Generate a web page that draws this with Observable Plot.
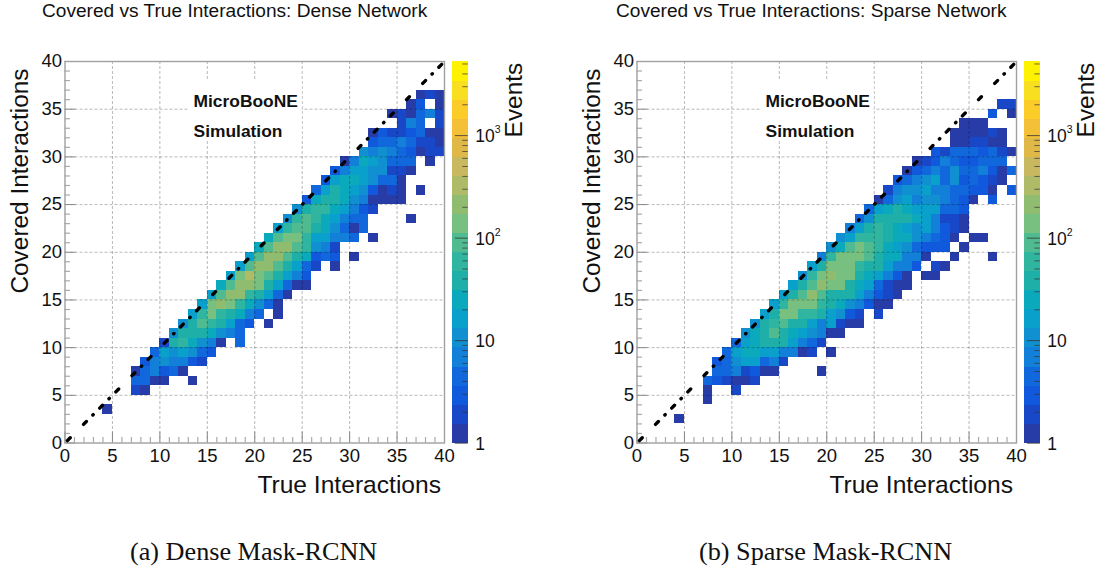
<!DOCTYPE html>
<html><head><meta charset="utf-8">
<script src="https://cdn.jsdelivr.net/npm/d3@7"></script>
<script src="https://cdn.jsdelivr.net/npm/@observablehq/plot@0.6"></script>
<style>
html,body{margin:0;padding:0;background:#fff}
#page{position:relative;width:1106px;height:572px;overflow:hidden;font-family:"Liberation Sans",sans-serif;color:#111}
.t{position:absolute;white-space:nowrap;font-size:19.1px;line-height:22px}
.c{position:absolute;white-space:nowrap;font-family:"Liberation Serif",serif;font-size:26.2px;line-height:28px}
svg{position:absolute;overflow:visible}
</style></head><body><div id="page"></div>
<script>
// Colour bands of the Events palette, bottom to top, and the counts that separate them
const bandColors = ["#283ca8","#1848c8","#1058dc","#1068dc","#1280d8","#1090d0","#0aa0cc","#0aaabc","#1eb0a8","#30b6a0","#50bb90","#78c080","#90bc70","#b0bb68","#c8b860","#e0b848","#f4c038","#fccc28","#f8e020","#fff200"];
const bandEdges = [1,1.53,2.35,3.6,5.5,8.5,13,20,30.6,47,72,110,170,260,398,610,940,1440,2200,3400,5250];
const axisTicks = [0,5,10,15,20,25,30,35,40];
const eventTicks = [1,10,100,1000];
const eventExponents = [{y:100,t:"2"},{y:1000,t:"3"}];
const eventMinor = [2,3,4,5,6,7,8,9,20,30,40,50,60,70,80,90,200,300,400,500,600,700,800,900,2000,3000,4000,5000];
// Diagonal pattern: whether a dot follows each dash
const diagonalDots = [0,1,1,0,1,0,1,1,0,0,1,0,0,1,1,0,1,0,1,1,0,0,1,0];

// Dense network: for each covered row, the first true bin and the events from there on
const denseCovered = [3,5,6,7,8,9,10,11,12,13,14,15,16,17,18,19,20,21,22,23,24,25,26,27,28,29,30,31,32,33,34,35,36];
const denseStart = [4,7,7,7,8,9,10,11,12,13,14,15,16,17,18,19,20,21,22,23,24,25,26,27,28,29,31,32,32,35,34,36,37];
const denseEvents = [
[1],[2,1],[4,4,1,1,0,0,1],[1,4,7,3,4,1],[3,7,10,7,7,3,2],[4,16,10,16,10,4,3],
[2,37,57,25,10,7,1,0,4],[10,37,37,37,25,10,7,4],[10,37,88,57,37,16,4,3,0,1],
[16,57,135,57,37,25,7,4,0,1],[16,135,206,135,57,25,10,4,1],[16,88,206,206,57,37,16,4,1],
[25,88,206,206,135,37,16,4,1,1],[16,135,316,135,88,37,16,7,3],[16,88,206,206,88,37,16,4,2,0,1],
[16,88,206,206,88,37,25,3,4,3,0,1],[25,88,206,206,88,57,10,7,2],[25,88,135,135,57,16,16,7,7,4,0,1],
[16,57,88,88,37,25,10,4,1,4],[10,57,88,57,25,16,7,4,4,0,0,0,0,1],[10,37,57,57,25,16,7,3,2],
[3,25,37,37,25,10,7,1,1,1,1],[4,16,37,25,16,10,3,1,2,1,0,1],[3,16,25,25,16,10,4,4,1],
[3,7,16,16,10,10,2,2,1],[1,7,25,16,10,4,4,4,0,1],[10,7,10,7,4,3,1,2,2],[3,4,4,7,4,2,2,1],
[1,3,2,2,3,4,1,1],[2,7,4,0,2],[1,2,1,4,7,2],[1,3,0,1],[1,2,1]];

// Sparse network
const sparseCovered = [2,4,5,6,7,8,9,10,11,12,13,14,15,16,17,18,19,20,21,22,23,24,25,26,27,28,29,30,31,32,33,34,35];
const sparseStart = [4,7,7,7,8,8,9,10,11,12,13,14,15,16,17,18,19,20,21,22,23,24,25,26,27,28,29,31,33,33,34,37,38];
const sparseEvents = [
[1],[1],[1,0,0,2],[4,3,2,1,1,2],[4,4,7,2,3,1,1,0,0,0,0,1],[3,4,10,16,16,4,7,2],
[4,16,25,25,16,16,7,7,1,2,0,1],[4,16,25,37,37,37,16,7,4,2],[10,25,37,88,37,25,16,10,7,1,1],
[10,37,57,88,37,37,16,7,16,2,1,1],[16,37,135,135,57,57,37,16,10,3,2,0,2],
[16,57,135,135,135,57,37,25,10,7,3,1,1],[16,37,88,206,88,37,37,37,16,7,3,2,1],
[16,37,88,206,135,135,37,25,16,4,2,1,1],[10,57,135,206,135,135,37,25,16,7,3,1,0,1,1],
[16,37,135,135,135,57,37,37,16,7,7,3,0,2,1],[7,57,135,135,135,88,37,25,25,7,7,1,0,0,1,0,0,0,1],
[10,25,88,135,88,57,25,16,10,4,3,3,3,0,1],[10,16,57,57,57,37,25,25,10,7,4,3,1,0,1,1],
[7,16,37,57,37,25,16,10,16,7,3,2,1],[4,10,37,37,37,37,25,16,7,2,2,1],[4,16,25,37,25,16,16,16,4,4,3],
[1,4,10,16,7,10,10,7,4,3,1,0,3],[2,7,10,10,16,7,7,4,4,3,3,1,0,3],[3,4,7,10,16,4,10,3,4,3,2,1],
[1,3,4,7,4,10,4,4,7,3,1,4],[1,2,3,7,4,3,3,4,4,4],[3,2,4,4,4,3,4,2,1],[1,1,2,2,1,1],[1,1,1,1,2,1],
[1,1,1],[3,0,1],[2,2]];

const page = document.getElementById("page");
const colorScale = {type:"threshold", domain:bandEdges.slice(1,-1), range:bandColors};

function cellsOf(covered, start, events){
  const out = [];
  covered.forEach((y,i)=>events[i].forEach((v,j)=>{ if(v>0) out.push({x:start[i]+j,y,v}); }));
  return out;
}
const dashPattern = diagonalDots.flatMap(d => d ? [4,9.2,0.5,9.2] : [4,18.9]).join(" ");

function panel(left, covered, start, events){
  const cells = cellsOf(covered,start,events);
  const minor = d3.range(0,41).filter(d=>d%5);
  const inner = axisTicks.filter(d=>d>0&&d<40);
  const svg = Plot.plot({
    width:450, height:510, marginLeft:64.5, marginRight:6, marginTop:61, marginBottom:67.5,
    style:{left:left+"px",top:"0px",fontFamily:"Liberation Sans, sans-serif",color:"#111",background:"transparent"},
    x:{domain:[0,40],label:null}, y:{domain:[0,40],label:null},
    color:colorScale,
    marks:[
      Plot.rect(cells,{x1:"x",x2:d=>d.x+1,y1:"y",y2:d=>d.y+1,fill:"v",shapeRendering:"crispEdges"}),
      Plot.ruleX(inner,{stroke:"#000",strokeOpacity:0.28,strokeDasharray:"3 2"}),
      Plot.ruleY(inner,{stroke:"#000",strokeOpacity:0.28,strokeDasharray:"3 2"}),
      Plot.rect([{x1:13,x2:25,y1:31.7,y2:38}],{x1:"x1",x2:"x2",y1:"y1",y2:"y2",fill:"#fff"}),
      Plot.text(["MicroBooNE"],{x:13.55,y:35.8,textAnchor:"start",fontWeight:"bold",fontSize:17.4,fill:"#111"}),
      Plot.text(["Simulation"],{x:13.55,y:32.65,textAnchor:"start",fontWeight:"bold",fontSize:17.4,fill:"#111"}),
      Plot.ruleX(minor,{y1:0,y2:0.58,stroke:"#aaa",strokeWidth:1.2}),
      Plot.ruleY(minor,{x1:0,x2:0.58,stroke:"#aaa",strokeWidth:1.2}),
      Plot.ruleX(axisTicks,{y1:0,y2:1.15,stroke:"#888",strokeWidth:1}),
      Plot.ruleY(axisTicks,{x1:0,x2:1.15,stroke:"#888",strokeWidth:1}),
      Plot.frame({stroke:"#a0a0a0",strokeWidth:1.4}),
      Plot.line([[0,0],[40.1,40.1]],{stroke:"#000",strokeWidth:3.4,strokeLinecap:"round",strokeDasharray:dashPattern,strokeDashoffset:-3.4}),
      Plot.axisX(axisTicks,{tickSize:0,tickPadding:6,fontSize:18.5,fill:"#111",label:null}),
      Plot.axisY(axisTicks,{tickSize:0,tickPadding:3,fontSize:18.5,fill:"#111",label:null}),
      Plot.text(["True Interactions"],{frameAnchor:"bottom-right",dy:50,dx:-3.5,textAnchor:"end",fontSize:24.6,fill:"#111"}),
      Plot.text(["Covered Interactions"],{frameAnchor:"top-left",dx:-54,dy:7,rotate:-90,textAnchor:"end",fontSize:24.4,fill:"#111"})
    ]
  });
  page.appendChild(svg);

  const bands = bandColors.map((c,i)=>({lo:bandEdges[i],hi:bandEdges[i+1],c}));
  const bar = Plot.plot({
    width:100, height:510, marginLeft:11.7, marginRight:72.2, marginTop:61.3, marginBottom:67.3,
    style:{left:(left+440)+"px",top:"0px",fontFamily:"Liberation Sans, sans-serif",color:"#111",background:"transparent"},
    x:{domain:[0,1],axis:null},
    y:{type:"log",domain:[1,5250],label:null,axis:null},
    marks:[
      Plot.rect(bands,{x1:0,x2:1,y1:"lo",y2:"hi",fill:"c",shapeRendering:"crispEdges"}),
      Plot.ruleY(eventMinor,{x1:0.66,x2:1,stroke:"#333",strokeOpacity:0.7}),
      Plot.ruleY(eventTicks,{x1:0.2,x2:1,stroke:"#333",strokeOpacity:0.8}),
      Plot.axisY(eventTicks,{anchor:"right",tickSize:0,tickPadding:7,fontSize:17.5,dy:1,fill:"#111",label:null,
        tickFormat:d=>d===1?"1":"10"}),
      Plot.text(eventExponents,{x:()=>1,y:"y",text:"t",dx:26.5,dy:-6,textAnchor:"start",fontSize:10.5,fill:"#111"}),
      Plot.text(["Events"],{frameAnchor:"top-right",dx:36,dy:1,rotate:-90,textAnchor:"end",fontSize:24.4,fill:"#111"})
    ]
  });
  page.appendChild(bar);
}
panel(0,denseCovered,denseStart,denseEvents);
panel(572,sparseCovered,sparseStart,sparseEvents);

function label(cls,text,x,y){const d=document.createElement("div");d.className=cls;d.textContent=text;d.style.left=x+"px";d.style.top=y+"px";page.appendChild(d);}
label("t","Covered vs True Interactions: Dense Network",42,0);
label("t","Covered vs True Interactions: Sparse Network",616,0);
label("c","(a) Dense Mask-RCNN",130,538);
label("c","(b) Sparse Mask-RCNN",699,538);
</script></body></html>
